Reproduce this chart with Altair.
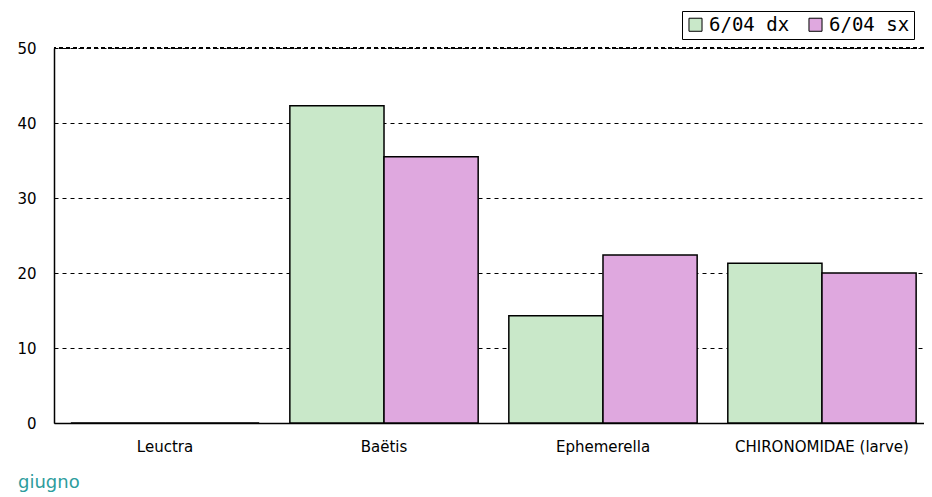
import altair as alt
import pandas as pd

categories = ["Leuctra", "Baëtis", "Ephemerella", "CHIRONOMIDAE (larve)"]
series = ["6/04 dx", "6/04 sx"]
dx_values = [0, 42.3, 14.3, 21.3]
sx_values = [0, 35.5, 22.4, 20.0]
y_ticks = [0, 10, 20, 30, 40, 50]
series_colors = ["#c9e8c9", "#dfa8df"]
footer = ["giugno"]
top_line = [50]

rows = []
for c, a, b in zip(categories, dx_values, sx_values):
    rows.append({"cat": c, "serie": series[0], "val": a})
    rows.append({"cat": c, "serie": series[1], "val": b})
df = pd.DataFrame(rows)

bars = alt.Chart(df).mark_bar(stroke="black", strokeWidth=1.5).encode(
    x=alt.X("cat:N", sort=categories, title=None,
            scale=alt.Scale(paddingInner=0.14, paddingOuter=0.077, range=[0, 879]),
            axis=alt.Axis(labelAngle=0, ticks=False, domain=True, domainColor="black",
                          domainWidth=1.5, labelFont="DejaVu Sans", labelFontSize=15,
                          labelColor="black", labelPadding=16, labelBaseline="top")),
    xOffset=alt.XOffset("serie:N", sort=series,
                        scale=alt.Scale(paddingInner=0, paddingOuter=0)),
    y=alt.Y("val:Q", title=None, scale=alt.Scale(domain=[0, 50], nice=False),
            axis=alt.Axis(values=y_ticks, ticks=False, domain=True, domainColor="black",
                          domainWidth=1.5, grid=True, gridColor="black",
                          gridDash=[4, 4], gridWidth=1, labelFont="DejaVu Sans",
                          labelFontSize=15, labelColor="black", labelPadding=18)),
    fill=alt.Fill("serie:N", sort=series,
                  scale=alt.Scale(domain=series, range=series_colors),
                  legend=alt.Legend(title=None, orient="none", legendX=628, legendY=-37,
                                    direction="horizontal", symbolType="square",
                                    symbolSize=170, symbolStrokeColor="black",
                                    symbolStrokeWidth=1, strokeColor="black",
                                    fillColor="white", padding=4,
                                    labelFont="DejaVu Sans Mono", labelFontSize=19,
                                    labelColor="black", columnPadding=16,
                                    labelOffset=4)),
)

top = alt.Chart(pd.DataFrame({"v": top_line})).mark_rule(
    color="black", strokeWidth=2, strokeDash=[4, 3]).encode(y="v:Q")

foot = alt.Chart(pd.DataFrame({"t": footer})).mark_text(
    align="left", baseline="alphabetic", font="DejaVu Sans", fontSize=18,
    color="#2e9d9d").encode(text="t:N", x=alt.value(-36), y=alt.value(440))

chart = alt.layer(bars, top, foot).properties(
    width=870, height=375,
    autosize=alt.AutoSizeParams(type="none"),
    padding={"left": 46, "top": 40, "right": 0, "bottom": 74},
).configure_view(stroke=None).configure_axis(gridWidth=1)

chart.save("out.html", embed_options={"renderer": "svg", "actions": False})
